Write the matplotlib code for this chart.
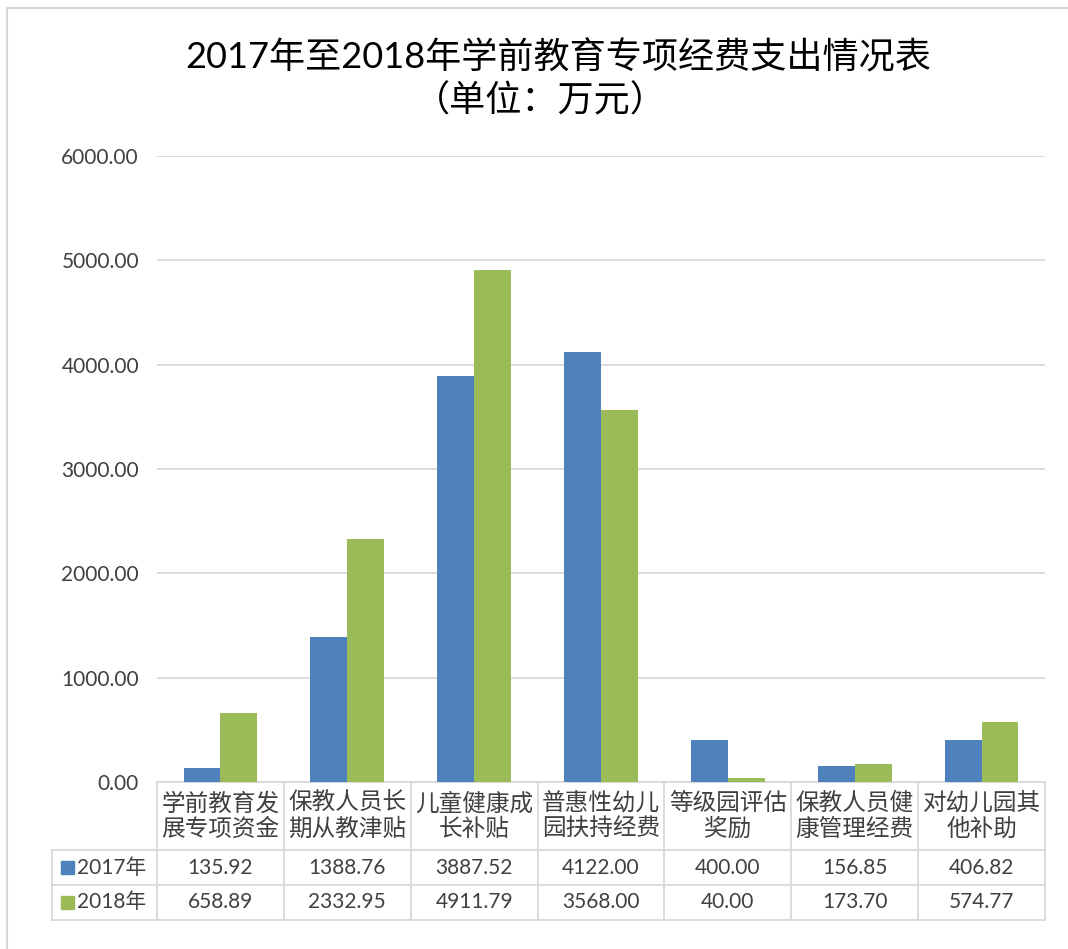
import numpy as np
import matplotlib
matplotlib.use("Agg")
import matplotlib.pyplot as plt
from matplotlib.transforms import blended_transform_factory
from matplotlib.patches import Rectangle

plt.rcParams['font.family'] = ['Lato', 'Noto Sans CJK SC', 'DejaVu Sans']

# data
categories = ['学前教育发\n展专项资金', '保教人员长\n期从教津贴', '儿童健康成\n长补贴',
              '普惠性幼儿\n园扶持经费', '等级园评估\n奖励', '保教人员健\n康管理经费',
              '对幼儿园其\n他补助']
series_names = ['2017年', '2018年']
values_2017 = [135.92, 1388.76, 3887.52, 4122.00, 400.00, 156.85, 406.82]
values_2018 = [658.89, 2332.95, 4911.79, 3568.00, 40.00, 173.70, 574.77]
yticks = [0, 1000, 2000, 3000, 4000, 5000, 6000]

blue = '#4F81BD'
green = '#9BBB59'
grid_c = '#D9D9D9'
txt_c = '#404040'

fig = plt.figure(figsize=(10.68, 9.49), dpi=100)
ax = fig.add_axes([157/1068, 1-782/949, (1045-157)/1068, (782-156)/949])

x = np.arange(len(categories))
w = 0.29
ax.bar(x - w/2, values_2017, w, color=blue, zorder=3)
ax.bar(x + w/2, values_2018, w, color=green, zorder=3)

ax.set_xlim(-0.5, len(categories) - 0.5)
ax.set_ylim(0, 6000)
ax.set_yticks(yticks)
ax.set_yticklabels(['%.2f' % v for v in yticks], fontsize=15, color=txt_c)
ax.tick_params(axis='y', length=0, pad=13)
ax.set_xticks([])
for s in ax.spines.values():
    s.set_visible(False)
ax.grid(axis='y', color=grid_c, lw=1.3, zorder=0)

# data table under the plot
tr = blended_transform_factory(ax.transData, ax.transAxes)
ph = 626.0
rows_y = [0, -68/ph, -103/ph, -138/ph]
left = -0.5 - 105/127.0
n = len(categories)
lkw = dict(color=grid_c, lw=1.3, transform=tr, clip_on=False)
# horizontal lines
ax.plot([-0.5, n - 0.5], [rows_y[0]] * 2, **lkw)
for yy in rows_y[1:]:
    ax.plot([left, n - 0.5], [yy] * 2, **lkw)
# vertical lines
for i in range(n + 1):
    ax.plot([i - 0.5] * 2, [rows_y[0], rows_y[3]], **lkw)
ax.plot([left] * 2, [rows_y[1], rows_y[3]], **lkw)

for i, c in enumerate(categories):
    ax.text(i, (rows_y[0] + rows_y[1]) / 2, c, transform=tr, ha='center', va='center',
            fontsize=17, color=txt_c, linespacing=1.2)
    ax.text(i, (rows_y[1] + rows_y[2]) / 2, '%.2f' % values_2017[i], transform=tr,
            ha='center', va='center', fontsize=15, color=txt_c)
    ax.text(i, (rows_y[2] + rows_y[3]) / 2, '%.2f' % values_2018[i], transform=tr,
            ha='center', va='center', fontsize=15, color=txt_c)

for k, (name, col) in enumerate(zip(series_names, [blue, green])):
    yc = (rows_y[k + 1] + rows_y[k + 2]) / 2
    ax.add_patch(Rectangle((left + 0.07, yc - 0.011), 0.1, 0.022, color=col,
                           transform=tr, clip_on=False))
    ax.text(left + 0.2, yc, name, transform=tr, ha='left', va='center',
            fontsize=15, color=txt_c)

# title
fig.text(558/1068, 1 - 57/949, '2017年至2018年学前教育专项经费支出情况表', ha='center', va='center',
         fontsize=26, color='black')
fig.text(540/1068, 1 - 100/949, '（单位：万元）', ha='center', va='center',
         fontsize=26, color='black')

# chart frame
fig.add_artist(plt.Line2D([7/1068, 7/1068], [0, 1 - 8/949], color=grid_c, lw=1.5))
fig.add_artist(plt.Line2D([7/1068, 1], [1 - 8/949, 1 - 8/949], color=grid_c, lw=1.5))

fig.savefig('out.png', dpi=100, facecolor='white')
